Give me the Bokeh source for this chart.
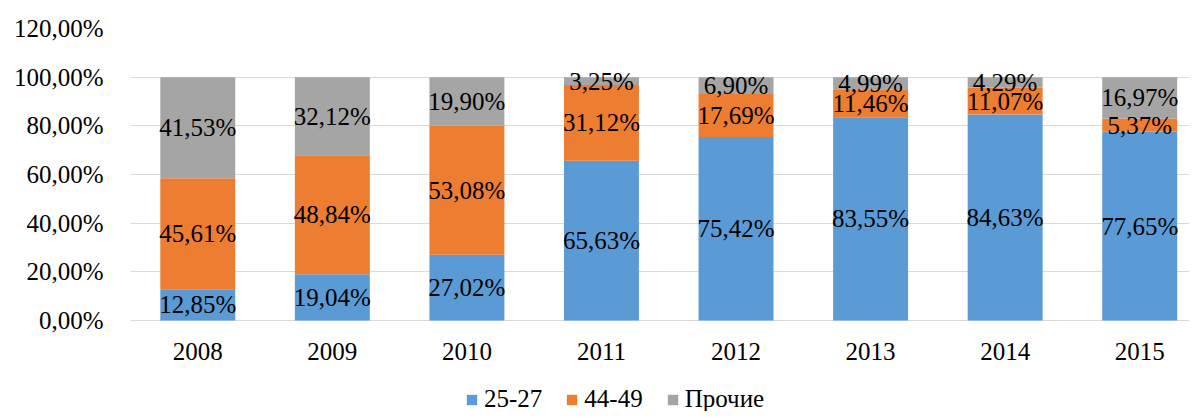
from bokeh.plotting import figure
from bokeh.models import ColumnDataSource, Range1d, FixedTicker, Legend, LegendItem
from bokeh.core.properties import value
from bokeh.embed import file_html
from bokeh.resources import INLINE

years = ["2008", "2009", "2010", "2011", "2012", "2013", "2014", "2015"]
s_25_27 = [12.85, 19.04, 27.02, 65.63, 75.42, 83.55, 84.63, 77.65]
s_44_49 = [45.61, 48.84, 53.08, 31.12, 17.69, 11.46, 11.07, 5.37]
s_other = [41.53, 32.12, 19.90, 3.25, 6.90, 4.99, 4.29, 16.97]
series_names = ["25-27", "44-49", "Прочие"]
y_ticks = [0, 20, 40, 60, 80, 100, 120]
y_tick_labels = ["0,00%", "20,00%", "40,00%", "60,00%", "80,00%", "100,00%", "120,00%"]

colors = ["#5B9BD5", "#ED7D31", "#A5A5A5"]
FONT = "Liberation Serif"
FS = "25px"

W, H = 1189, 411
TOP, LEFT = 28, 130
PX_PER_UNIT = 292 / 120.0          # 0..120 spans 292 px
frame_h = H - TOP
y_start = 120 - frame_h / PX_PER_UNIT

x = list(range(len(years)))
src = ColumnDataSource(dict(x=x, a=s_25_27, b=s_44_49, c=s_other))

p = figure(width=W, height=H, output_backend="svg", toolbar_location=None,
           x_range=Range1d(-0.5, 7.37), y_range=Range1d(y_start, 120),
           min_border_left=LEFT, min_border_right=0, min_border_top=TOP, min_border_bottom=0)
p.outline_line_color = None

rs = p.vbar_stack(["a", "b", "c"], x="x", width=0.557, color=colors, line_color=None, source=src)

def fmt(v):
    return f"{v:.2f}".replace(".", ",") + "%"

lx, ly, lt = [], [], []
for i in range(len(years)):
    base = 0.0
    for vals in (s_25_27, s_44_49, s_other):
        v = vals[i]
        lx.append(x[i]); ly.append(base + v / 2); lt.append(fmt(v))
        base += v
p.text(x=lx, y=ly, text=lt, text_align="center", text_baseline="middle",
       text_font=value(FONT), text_font_size=FS, text_color="#000000")

# category labels under the baseline
p.text(x=x, y=[0] * len(x), text=years, y_offset=31, text_align="center", text_baseline="middle",
       text_font=value(FONT), text_font_size=FS, text_color="#000000")

# y axis
p.yaxis.ticker = FixedTicker(ticks=y_ticks)
p.yaxis.major_label_overrides = {t: l for t, l in zip(y_ticks, y_tick_labels)}
p.yaxis.axis_line_color = None
p.yaxis.major_tick_line_color = None
p.yaxis.minor_tick_line_color = None
p.yaxis.major_tick_out = 0
p.yaxis.major_label_standoff = 27
p.yaxis.major_label_text_font = FONT
p.yaxis.major_label_text_font_size = FS
p.yaxis.major_label_text_color = "#000000"

p.xaxis.visible = False
p.xgrid.visible = False
p.ygrid.ticker = FixedTicker(ticks=y_ticks)
p.ygrid.grid_line_color = "#D9D9D9"
p.ygrid.grid_line_width = 1

legend = Legend(items=[LegendItem(label=n, renderers=[r]) for n, r in zip(series_names, rs)],
                orientation="horizontal", location=(335, -2),
                glyph_width=13, glyph_height=13, label_standoff=6, spacing=23,
                label_height=26, padding=0, margin=0,
                border_line_color=None, background_fill_alpha=0,
                label_text_font=FONT, label_text_font_size=FS, label_text_color="#000000")
p.add_layout(legend, "center")

open("out.html", "w").write(file_html(p, INLINE))
